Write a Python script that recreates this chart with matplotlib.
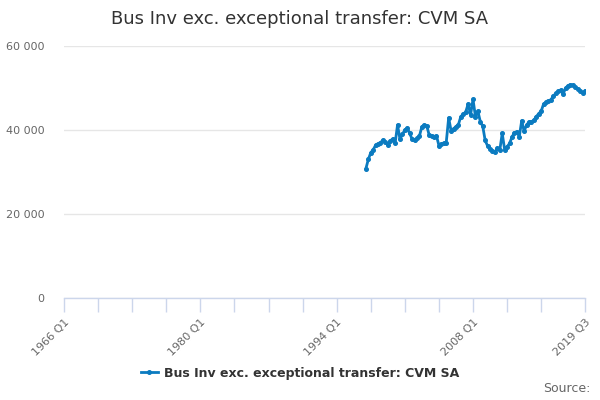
import matplotlib
matplotlib.use("Agg")
import matplotlib.pyplot as plt
from matplotlib.ticker import FuncFormatter

title = "Bus Inv exc. exceptional transfer: CVM SA"
series_name = "Bus Inv exc. exceptional transfer: CVM SA"

# Full axis period: 1966 Q1 .. 2019 Q3 (quarter index 0..214)
axis_start_year = 1966
axis_end_index = 214
tick_labels = {0: "1966 Q1", 56: "1980 Q1", 112: "1994 Q1", 168: "2008 Q1", 214: "2019 Q3"}

# Data starts 1997 Q1 (quarter index 124)
data_start_index = 124
values = [
    30800, 33000, 34600, 35300, 36400, 36700, 37000, 37600, 37200, 36500,
    37400, 37900, 36800, 41200, 37800, 39000, 40000, 40500, 39200, 37800,
    37500, 38000, 38600, 40800, 41200, 41000, 38800, 38500, 38300, 38600,
    36300, 36600, 36800, 37000, 42900, 39800, 40300, 40800, 41300, 43200,
    43800, 44300, 46200, 43600, 47300, 43200, 44500, 42000, 40900, 37500,
    36200, 35500, 35100, 34700, 35700, 35200, 39200, 35300, 36000, 36800,
    38300, 39400, 39600, 38400, 42200, 39700, 41200, 41900, 42000, 42300,
    43200, 43900, 44500, 46200, 46600, 46900, 47200, 48100, 48700, 49200,
    49500, 48500, 50000, 50500, 50800, 50700, 50200, 49800, 49400, 48900,
    49300,
]
x_idx = list(range(data_start_index, data_start_index + len(values)))

fig = plt.figure(figsize=(6, 4), dpi=100)
ax = fig.add_axes([64 / 600, 102 / 400, 521 / 600, 252 / 400])

line_color = "#0b7bc0"
ax.plot(x_idx, values, color=line_color, lw=2, marker="o", ms=2.6, mec=line_color, mfc=line_color)

ax.set_xlim(0, axis_end_index)
ax.set_ylim(0, 60000)
ax.set_yticks([0, 20000, 40000, 60000])
ax.yaxis.set_major_formatter(FuncFormatter(lambda v, p: f"{int(v):,}".replace(",", " ")))
ax.grid(axis="y", color="#e6e6e6", lw=1)
ax.set_axisbelow(True)

xt = list(range(0, 197, 14)) + [axis_end_index]
ax.set_xticks(xt)
ax.set_xticklabels([tick_labels.get(t, "") for t in xt], rotation=45, ha="right",
                   rotation_mode="anchor", fontsize=8, color="#666666")
ax.tick_params(axis="x", length=10, color="#ccd6eb", width=1, pad=4)
ax.tick_params(axis="y", length=0, labelsize=8, labelcolor="#666666", pad=14)

for s in ["top", "right", "left"]:
    ax.spines[s].set_visible(False)
ax.spines["bottom"].set_color("#ccd6eb")
ax.spines["bottom"].set_linewidth(1)

fig.text(0.5, 1 - 19 / 400, title, ha="center", va="center", fontsize=13, color="#333333")

leg = fig.legend([plt.Line2D([], [], color=line_color, lw=2, marker="o", ms=2.6)],
                 [series_name], loc="center", bbox_to_anchor=(0.5, 1 - 373 / 400),
                 frameon=False, handlelength=1.4, handletextpad=0.5,
                 prop={"weight": "bold", "size": 9})
for t in leg.get_texts():
    t.set_color("#333333")

fig.text(590 / 600, 1 - 389 / 400, "Source:", ha="right", va="center", fontsize=9, color="#666666")

fig.savefig("out.png", dpi=100)
